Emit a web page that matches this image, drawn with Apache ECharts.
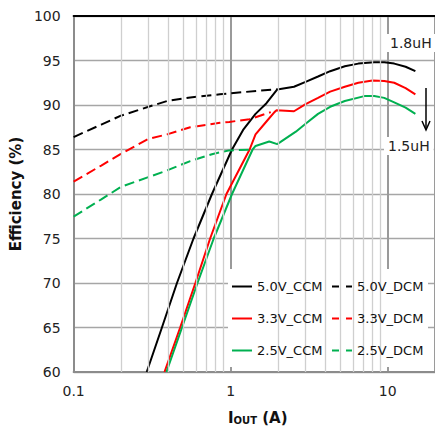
<!DOCTYPE html>
<html><head><meta charset="utf-8">
<script src="https://cdn.jsdelivr.net/npm/echarts@6/dist/echarts.min.js"></script>
<style>html,body{margin:0;padding:0;background:#fff}#c{width:435px;height:430px}</style>
</head><body><div id="c"></div>
<script>
// ---- data ----
const xTickValues = [0.1, 1, 10];
const minorGridValues = [0.2,0.3,0.4,0.5,0.6,0.7,0.8,0.9,2,3,4,5,6,7,8,9];
const seriesNames = ['5.0V_CCM','5.0V_DCM','3.3V_CCM','3.3V_DCM','2.5V_CCM','2.5V_DCM'];
const ccm50 = [[0.292,60],[0.365,65],[0.455,70],[0.58,75],[0.76,80],[1.02,85],[1.2,87.2],[1.44,89.0],[1.69,90.2],[1.98,91.75],[2.53,92.05],[3.0,92.6],[3.6,93.2],[4.3,93.8],[5.33,94.35],[6.5,94.65],[8.2,94.8],[9.5,94.8],[11,94.65],[13,94.3],[15,93.8]];
const dcm50 = [[0.1,86.4],[0.15,87.8],[0.2,88.8],[0.3,89.8],[0.394,90.45],[0.553,90.85],[0.855,91.2],[0.98,91.3],[1.5,91.6],[1.98,91.75]];
const ccm33 = [[0.379,60],[0.477,65],[0.596,70],[0.74,75],[0.94,80],[1.32,85],[1.44,86.7],[1.7,88.2],[1.9,89.2],[1.96,89.4],[2.53,89.3],[3.0,90.1],[3.6,90.8],[4.3,91.5],[5.33,92.05],[6.5,92.5],[8,92.75],[9.5,92.7],[11,92.5],[13,91.9],[15,91.2]];
const dcm33 = [[0.1,81.4],[0.15,83.2],[0.2,84.5],[0.3,86.2],[0.394,86.7],[0.553,87.5],[0.855,88.0],[0.98,88.1],[1.32,88.4],[1.8,89.2]];
const ccm25 = [[0.39,60],[0.49,65],[0.615,70],[0.78,75],[1.02,80],[1.38,85],[1.44,85.4],[1.76,85.9],[1.98,85.6],[2.6,87.0],[3.0,87.9],[3.6,89.0],[4.3,89.8],[5.33,90.45],[7.1,91.0],[8.2,91.0],[9.5,90.8],[11,90.3],[13,89.7],[15,89.0]];
const dcm25 = [[0.1,77.45],[0.15,79.4],[0.2,80.8],[0.3,81.9],[0.394,82.65],[0.553,83.7],[0.77,84.5],[0.98,84.9],[1.38,85.0]];
const seriesData = [ccm50, dcm50, ccm33, dcm33, ccm25, dcm25];
const seriesColors = ['#000000','#000000','#ff0000','#ff0000','#00b050','#00b050'];
const seriesDashed = [false,true,false,true,false,true];

const FONT = 'DejaVu Sans';
const chart = echarts.init(document.getElementById('c'), null, {renderer:'svg'});

const series = seriesNames.map((n,i)=>({
  name:n, type:'line', data:seriesData[i], symbol:'none', showSymbol:false, z:3,
  lineStyle:{color:seriesColors[i], width:2, type: seriesDashed[i]?[10,5]:'solid'},
  itemStyle:{color:seriesColors[i]}
}));
series.unshift({
  name:'minorGrid', type:'line', data:[], z:1, silent:true,
  markLine:{silent:true, symbol:'none', animation:false, label:{show:false},
    lineStyle:{color:'#cfcfcf', width:1.3, type:'solid'},
    data: minorGridValues.map(v=>({xAxis:v}))}
});

const isTick = v => xTickValues.some(t=>Math.abs(t-v)/t<1e-6);
const ICON_SOLID = 'path://M0,0h20v2h-20z';
const ICON_DASH = 'path://M0,0h7v2h-7zM14,0h6v2h-6z';
const legendBase = {orient:'vertical', top:275, itemWidth:20, itemHeight:2, itemGap:19,
  symbolKeepAspect:false, z:10, selectedMode:false,
  textStyle:{fontSize:13, color:'#111', fontFamily:FONT}};

chart.setOption({
  animation:false,
  textStyle:{fontFamily:FONT},
  grid:{left:72, top:16, bottom:55, right:-3, containLabel:false},
  xAxis:[{
    type:'log', logBase:10, min:0.1, max:20,
    axisLine:{show:true, lineStyle:{color:'#8c8c8c', width:2}},
    axisTick:{show:false},
    axisLabel:{fontSize:14, color:'#222', margin:12, fontFamily:FONT, showMaxLabel:false,
      formatter:v=> isTick(v) ? String(+v.toPrecision(3)) : ''},
    splitLine:{show:true, lineStyle:{color:'#9a9a9a', width:2}},
    name:'{b|I}{s|OUT}{b| (A)}', nameLocation:'middle', nameGap:33,
    nameTextStyle:{padding:[0,0,0,7], rich:{
      b:{fontSize:15, fontWeight:'bold', color:'#111', fontFamily:FONT, lineHeight:20, verticalAlign:'bottom'},
      s:{fontSize:10, fontWeight:'bold', color:'#111', fontFamily:FONT, padding:[6,0,0,0], verticalAlign:'bottom'}
    }}
  },{
    type:'log', logBase:10, min:0.1, max:20, position:'top', z:10,
    axisLine:{show:true, lineStyle:{color:'#000', width:2}},
    axisTick:{show:false}, axisLabel:{show:false}, splitLine:{show:false}
  }],
  yAxis:{
    type:'value', min:60, max:100, interval:5,
    axisLine:{show:true, lineStyle:{color:'#8c8c8c', width:2}},
    axisTick:{show:false},
    axisLabel:{fontSize:14, color:'#222', margin:13, fontFamily:FONT},
    splitLine:{show:true, lineStyle:{color:'#a6a6a6', width:1.3}},
    name:'Efficiency (%)', nameLocation:'middle', nameGap:43,
    nameTextStyle:{fontSize:15, fontWeight:'bold', color:'#111', fontFamily:FONT}
  },
  legend:[Object.assign({}, legendBase, {left:227,
    data:[{name:'5.0V_CCM',icon:ICON_SOLID},{name:'3.3V_CCM',icon:ICON_SOLID},{name:'2.5V_CCM',icon:ICON_SOLID}]}),
    Object.assign({}, legendBase, {left:327,
    data:[{name:'5.0V_DCM',icon:ICON_DASH},{name:'3.3V_DCM',icon:ICON_DASH},{name:'2.5V_DCM',icon:ICON_DASH}]})
  ],
  graphic:[
    {type:'rect', z:5, shape:{x:228, y:269, width:200, height:98}, style:{fill:'#fff'}},
    {type:'text', z:6, left:386, top:34, style:{text:'1.8uH', fontSize:14, fontFamily:FONT, fill:'#222', backgroundColor:'#fff', padding:[2,4]}},
    {type:'text', z:6, left:384, top:137, style:{text:'1.5uH', fontSize:14, fontFamily:FONT, fill:'#222', backgroundColor:'#fff', padding:[2,4]}},
    {type:'line', z:6, shape:{x1:426, y1:88, x2:426, y2:128}, style:{stroke:'#000', lineWidth:1.5}},
    {type:'polyline', z:6, shape:{points:[[422,121],[426,130],[430,121]]}, style:{stroke:'#000', lineWidth:1.5, fill:null}}
  ],
  series: series
});
</script></body></html>
